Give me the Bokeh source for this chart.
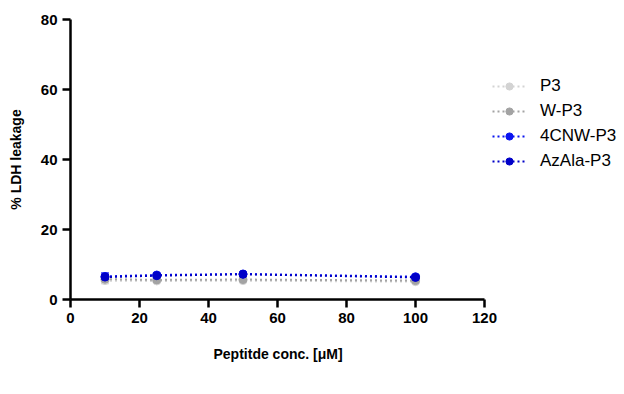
from bokeh.plotting import figure
from bokeh.models import (ColumnDataSource, Legend, LegendItem, Whisker,
                          FixedTicker, Range1d, Title)
from bokeh.embed import file_html
from bokeh.resources import INLINE

# LDH leakage (%) versus peptide concentration (µM)
conc = [10, 25, 50, 100]
series_names = ["P3", "W-P3", "4CNW-P3", "AzAla-P3"]
p3 = [5.4, 5.3, 5.4, 5.1]
w_p3 = [5.8, 5.6, 5.7, 5.4]
cnw_p3 = [6.6, 7.0, 7.3, 6.5]
azala_p3 = [6.4, 6.8, 7.2, 6.3]
p3_sd = [0.9, 0.4, 0.4, 0.4]
w_p3_sd = [0.8, 0.4, 0.4, 0.4]
cnw_p3_sd = [1.0, 0.5, 0.4, 0.5]
azala_p3_sd = [0.8, 0.4, 0.3, 0.4]

x_ticks = [0, 20, 40, 60, 80, 100, 120]
y_ticks = [0, 20, 40, 60, 80]
x_axis_span = (0, 120)

colors = ["#d3d3d3", "#a3a3a3", "#0a14f0", "#0000c8"]
values = [p3, w_p3, cnw_p3, azala_p3]
errors = [p3_sd, w_p3_sd, cnw_p3_sd, azala_p3_sd]

FONT = "Liberation Sans"

# the frame runs on past the axis so the legend can sit to its right
PLOT_W, LEFT, RIGHT = 624, 70, 4
AXIS_PX = 414
x_end = x_axis_span[1] * (PLOT_W - LEFT - RIGHT) / AXIS_PX

p = figure(width=PLOT_W, height=394, output_backend="svg", toolbar_location=None,
           x_range=Range1d(0, x_end), y_range=Range1d(0, 80),
           min_border_left=LEFT, min_border_right=RIGHT,
           min_border_top=19, min_border_bottom=95)
p.outline_line_color = None
p.background_fill_color = "white"
p.border_fill_color = "white"
p.xgrid.visible = False
p.ygrid.visible = False

items = []
for name, ys, sds, col in zip(series_names, values, errors, colors):
    src = ColumnDataSource(dict(
        x=conc, y=ys,
        lo=[v - s for v, s in zip(ys, sds)],
        hi=[v + s for v, s in zip(ys, sds)]))
    w = Whisker(source=src, base="x", lower="lo", upper="hi",
                line_color=col, line_width=1.5)
    w.upper_head.line_color = col
    w.lower_head.line_color = col
    w.upper_head.size = 8
    w.lower_head.size = 8
    p.add_layout(w)
    ln = p.line("x", "y", source=src, line_color=col, line_width=2,
                line_dash="2 3")
    pt = p.scatter("x", "y", source=src, size=8, marker="circle",
                   fill_color=col, line_color=col)
    items.append(LegendItem(label=name, renderers=[ln, pt]))

legend = Legend(items=items, location=(422, 128), margin=0,
                padding=0, spacing=5, glyph_width=34, glyph_height=18,
                label_text_font=FONT, label_text_font_size="17px",
                label_text_color="black",
                label_standoff=14, border_line_color=None,
                background_fill_alpha=0)
p.add_layout(legend)

for ax in (p.xaxis[0], p.yaxis[0]):
    ax.axis_line_width = 2.5
    ax.axis_line_color = "black"
    ax.major_tick_line_width = 2.5
    ax.major_tick_line_color = "black"
    ax.major_tick_out = 8
    ax.major_tick_in = 0
    ax.minor_tick_line_color = None
    ax.major_label_text_font = FONT
    ax.major_label_text_font_style = "bold"
    ax.major_label_text_font_size = "15px"
    ax.major_label_text_color = "black"
    ax.axis_label_text_font = FONT
    ax.axis_label_text_font_style = "bold"
    ax.axis_label_text_font_size = "14px"
    ax.axis_label_text_color = "black"

p.xaxis.bounds = x_axis_span
p.xaxis.ticker = FixedTicker(ticks=x_ticks)
p.yaxis.ticker = FixedTicker(ticks=y_ticks)
p.yaxis.axis_label = "% LDH leakage"
p.xaxis.major_label_standoff = 5
p.yaxis.major_label_standoff = 5
p.yaxis.axis_label_standoff = 14

# x-axis title, centred under the drawn axis rather than the whole frame
x_title = Title(text="Peptitde conc. [μM]", align="left", offset=143,
                text_font=FONT, text_font_style="bold",
                text_font_size="14px", text_color="black", standoff=37)
p.add_layout(x_title, "below")

open("out.html", "w").write(file_html(p, INLINE))
